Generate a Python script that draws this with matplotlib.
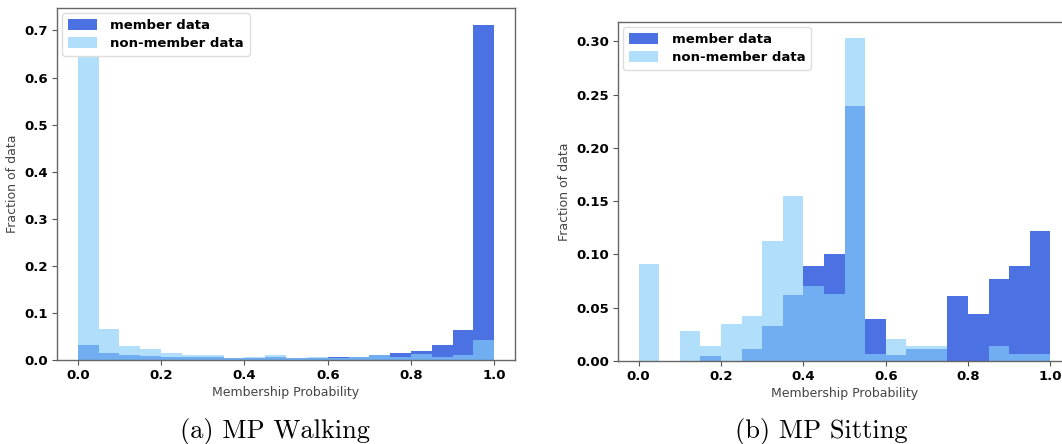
import numpy as np
import matplotlib
matplotlib.use("Agg")
import matplotlib.pyplot as plt

# Histogram bins: 20 equal-width bins on [0, 1]
bin_edges = np.linspace(0.0, 1.0, 21)

# (a) MP Walking: fraction of data per bin
walking_member = [0.031, 0.015, 0.010, 0.008, 0.007, 0.006, 0.006, 0.004, 0.005, 0.006,
                  0.004, 0.005, 0.007, 0.006, 0.011, 0.016, 0.020, 0.033, 0.063, 0.712]
walking_nonmember = [0.710, 0.067, 0.029, 0.023, 0.014, 0.010, 0.010, 0.004, 0.007, 0.010,
                     0.005, 0.006, 0.005, 0.006, 0.010, 0.007, 0.012, 0.007, 0.011, 0.043]

# (b) MP Sitting: fraction of data per bin
sitting_member = [0.0, 0.0, 0.0, 0.005, 0.0, 0.011, 0.033, 0.062, 0.089, 0.100,
                  0.239, 0.039, 0.006, 0.011, 0.011, 0.061, 0.044, 0.077, 0.089, 0.122]
sitting_nonmember = [0.091, 0.0, 0.028, 0.014, 0.035, 0.042, 0.113, 0.155, 0.070, 0.063,
                     0.303, 0.007, 0.021, 0.014, 0.014, 0.0, 0.0, 0.014, 0.007, 0.007]

x_ticks = [0.0, 0.2, 0.4, 0.6, 0.8, 1.0]
captions = ["(a) MP Walking", "(b) MP Sitting"]

member_color = "#4169e1"
nonmember_color = "#87cefa"

fig = plt.figure(figsize=(10.62, 4.44), dpi=100)
ax_a = fig.add_axes([0.0537, 0.189, 0.4313, 0.793])
ax_b = fig.add_axes([0.582, 0.187, 0.4265, 0.763])


def draw_panel(ax, member, nonmember, yticks, fmt):
    left = bin_edges[:-1]
    width = np.diff(bin_edges)
    ax.bar(left, member, width=width, align="edge", color=member_color,
           alpha=0.95, linewidth=0, label="member data")
    ax.bar(left, nonmember, width=width, align="edge", color=nonmember_color,
           alpha=0.65, linewidth=0, label="non-member data")
    ax.set_xlim(-0.05, 1.05)
    ax.set_xticks(x_ticks)
    ax.set_xticklabels([f"{t:.1f}" for t in x_ticks])
    ax.set_yticks(yticks)
    ax.set_yticklabels([fmt.format(t) for t in yticks])
    for lbl in ax.get_xticklabels() + ax.get_yticklabels():
        lbl.set_fontweight("bold")
        lbl.set_fontsize(9.5)
    ax.tick_params(axis="both", length=3.5, width=0.8, color="#555555", pad=3)
    for sp in ax.spines.values():
        sp.set_color("#666666")
        sp.set_linewidth(1.0)
    ax.set_xlabel("Membership Probability", fontsize=9, color="#444444", labelpad=3)
    ax.set_ylabel("Fraction of data", fontsize=9, color="#444444", labelpad=4)
    leg = ax.legend(loc="upper left", prop={"weight": "bold", "size": 9.5},
                    handlelength=2.2, handleheight=0.9, borderpad=0.45,
                    labelspacing=0.35, handletextpad=1.0, framealpha=1.0,
                    edgecolor="#dddddd", borderaxespad=0.4)
    return leg


draw_panel(ax_a, walking_member, walking_nonmember,
           [0.0, 0.1, 0.2, 0.3, 0.4, 0.5, 0.6, 0.7], "{:.1f}")
ax_a.set_ylim(0, 0.7476)

draw_panel(ax_b, sitting_member, sitting_nonmember,
           [0.0, 0.05, 0.10, 0.15, 0.20, 0.25, 0.30], "{:.2f}")
ax_b.set_ylim(0, 0.318)

fig.text(0.259, 0.0145, captions[0], ha="center", va="baseline",
         fontsize=19, family="cmr10")
fig.text(0.773, 0.0145, captions[1], ha="center", va="baseline",
         fontsize=19, family="cmr10")

fig.savefig("out.png", dpi=100)
